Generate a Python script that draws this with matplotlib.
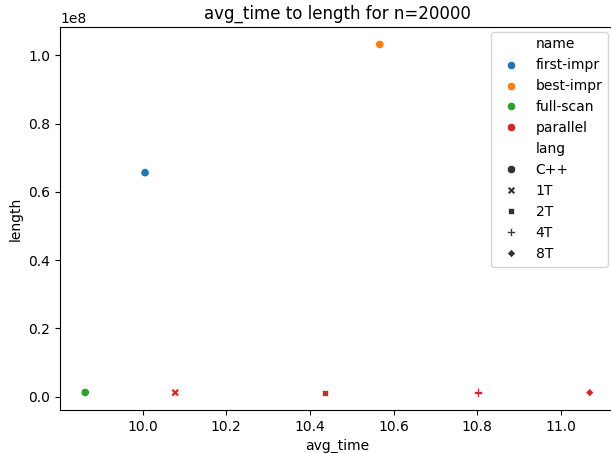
import matplotlib
matplotlib.use("Agg")
import matplotlib.pyplot as plt
import seaborn as sns
import pandas as pd

names = ["first-impr", "best-impr", "full-scan", "parallel", "parallel", "parallel", "parallel"]
langs = ["C++", "C++", "C++", "1T", "2T", "4T", "8T"]
avg_time = [10.006, 10.567, 9.863, 10.078, 10.437, 10.802, 11.069]
length = [65.6e6, 103.2e6, 1.2e6, 1.15e6, 1.15e6, 1.15e6, 1.15e6]

df = pd.DataFrame({"name": names, "lang": langs, "avg_time": avg_time, "length": length})

fig = plt.figure(figsize=(6.11, 4.53), dpi=100)
ax = fig.add_axes([60 / 611, 1 - 410 / 453, 555 / 611, 383 / 453])
sns.scatterplot(data=df, x="avg_time", y="length", hue="name", style="lang", ax=ax)
ax.set_title("avg_time to length for n=20000")
ax.legend(loc="upper right", bbox_to_anchor=(615 / 611, 1 - 25 / 453),
          bbox_transform=fig.transFigure)
fig.savefig("out.png", dpi=100)
